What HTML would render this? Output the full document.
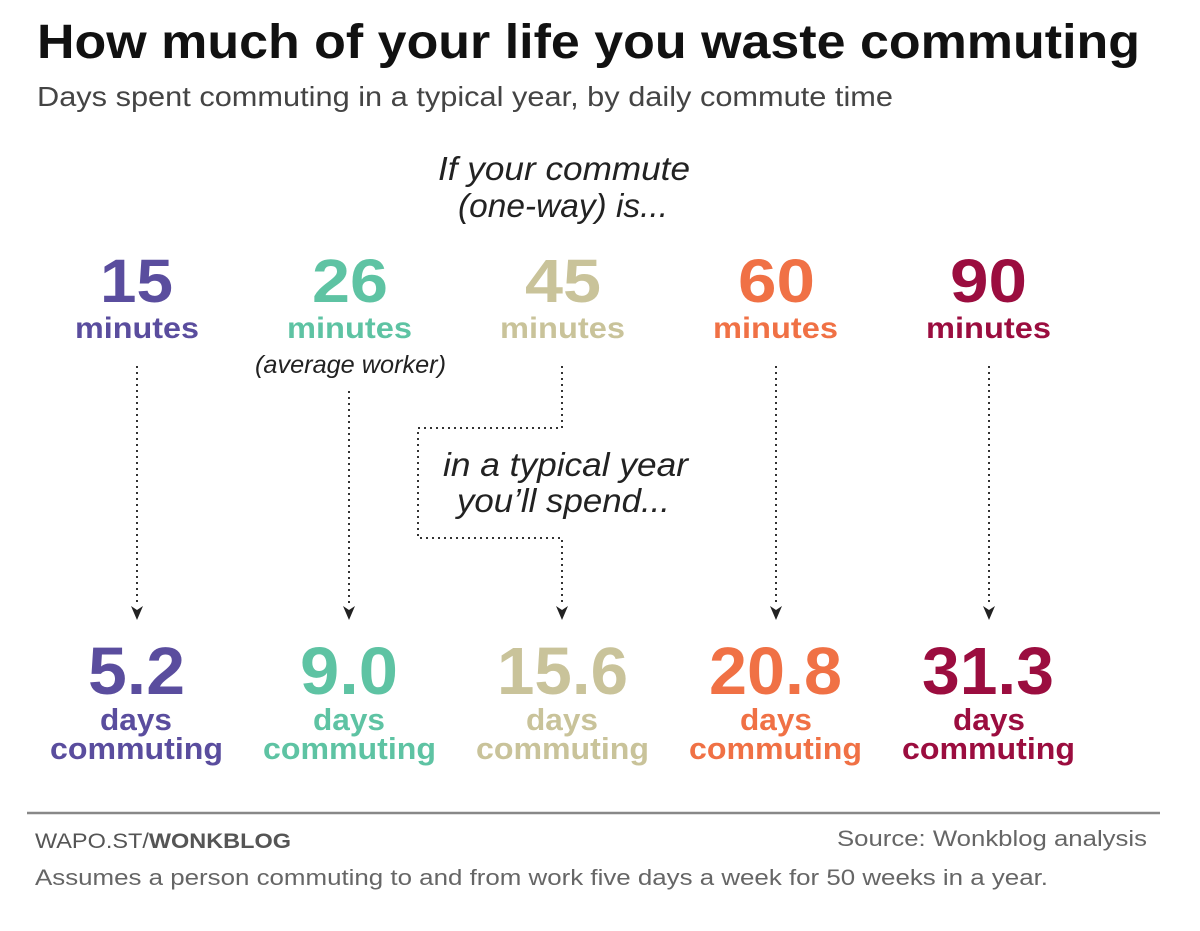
<!DOCTYPE html>
<html><head><meta charset="utf-8"><style>
html,body{margin:0;padding:0;background:#fff;width:1200px;height:931px;overflow:hidden}
svg{display:block}
text{font-family:"Liberation Sans",sans-serif}
.b{font-weight:bold}
.i{font-style:italic;fill:#222}
</style></head><body>
<svg width="1200" height="931" viewBox="0 0 1200 931" xmlns="http://www.w3.org/2000/svg">
<text x="37" y="58" class="b" font-size="48" fill="#111" textLength="1103" lengthAdjust="spacingAndGlyphs">How much of your life you waste commuting</text>
<text x="37" y="106" font-size="28" fill="#444" textLength="856" lengthAdjust="spacingAndGlyphs">Days spent commuting in a typical year, by daily commute time</text>
<text x="438" y="180" class="i" font-size="33" textLength="252" lengthAdjust="spacingAndGlyphs">If your commute</text>
<text x="458" y="217" class="i" font-size="33" textLength="210" lengthAdjust="spacingAndGlyphs">(one-way) is...</text>

<g class="b" font-size="61">
<text x="100" y="302" fill="#5a4d9e" textLength="73" lengthAdjust="spacingAndGlyphs">15</text>
<text x="312" y="302" fill="#5ec3a3" textLength="76" lengthAdjust="spacingAndGlyphs">26</text>
<text x="525" y="302" fill="#c9c39a" textLength="76" lengthAdjust="spacingAndGlyphs">45</text>
<text x="738" y="302" fill="#f07145" textLength="77" lengthAdjust="spacingAndGlyphs">60</text>
<text x="950" y="302" fill="#9b0d3f" textLength="77" lengthAdjust="spacingAndGlyphs">90</text>
</g>
<g class="b" font-size="30">
<text x="75" y="338" fill="#5a4d9e" textLength="124" lengthAdjust="spacingAndGlyphs">minutes</text>
<text x="287" y="338" fill="#5ec3a3" textLength="125" lengthAdjust="spacingAndGlyphs">minutes</text>
<text x="500" y="338" fill="#c9c39a" textLength="125" lengthAdjust="spacingAndGlyphs">minutes</text>
<text x="713" y="338" fill="#f07145" textLength="125" lengthAdjust="spacingAndGlyphs">minutes</text>
<text x="926" y="338" fill="#9b0d3f" textLength="125" lengthAdjust="spacingAndGlyphs">minutes</text>
</g>
<text x="255" y="373" class="i" font-size="25" fill="#333" textLength="191" lengthAdjust="spacingAndGlyphs">(average worker)</text>

<g stroke="#333" stroke-width="2" stroke-dasharray="2 4" fill="none">
<line x1="137" y1="366" x2="137" y2="604"/>
<line x1="349" y1="391" x2="349" y2="604"/>
<polyline points="562,366 562,428 418,428 418,538 562,538 562,604"/>
<line x1="776" y1="366" x2="776" y2="604"/>
<line x1="989" y1="366" x2="989" y2="604"/>
</g>
<g fill="#222">
<path d="M131,606 L137,620 L143,606 L137,610Z"/>
<path d="M343,606 L349,620 L355,606 L349,610Z"/>
<path d="M556,606 L562,620 L568,606 L562,610Z"/>
<path d="M770,606 L776,620 L782,606 L776,610Z"/>
<path d="M983,606 L989,620 L995,606 L989,610Z"/>
</g>

<text x="443" y="476" class="i" font-size="33" textLength="245" lengthAdjust="spacingAndGlyphs">in a typical year</text>
<text x="457" y="512" class="i" font-size="33" textLength="213" lengthAdjust="spacingAndGlyphs">you’ll spend...</text>

<g class="b" font-size="67">
<text x="88" y="694" fill="#5a4d9e" textLength="97" lengthAdjust="spacingAndGlyphs">5.2</text>
<text x="300" y="694" fill="#5ec3a3" textLength="98" lengthAdjust="spacingAndGlyphs">9.0</text>
<text x="497" y="694" fill="#c9c39a" textLength="131" lengthAdjust="spacingAndGlyphs">15.6</text>
<text x="709" y="694" fill="#f07145" textLength="133" lengthAdjust="spacingAndGlyphs">20.8</text>
<text x="922" y="694" fill="#9b0d3f" textLength="132" lengthAdjust="spacingAndGlyphs">31.3</text>
</g>
<g class="b" font-size="31">
<text x="100" y="730" fill="#5a4d9e" textLength="72" lengthAdjust="spacingAndGlyphs">days</text>
<text x="313" y="730" fill="#5ec3a3" textLength="72" lengthAdjust="spacingAndGlyphs">days</text>
<text x="526" y="730" fill="#c9c39a" textLength="72" lengthAdjust="spacingAndGlyphs">days</text>
<text x="740" y="730" fill="#f07145" textLength="72" lengthAdjust="spacingAndGlyphs">days</text>
<text x="953" y="730" fill="#9b0d3f" textLength="72" lengthAdjust="spacingAndGlyphs">days</text>
</g>
<g class="b" font-size="31">
<text x="50" y="759" fill="#5a4d9e" textLength="173" lengthAdjust="spacingAndGlyphs">commuting</text>
<text x="263" y="759" fill="#5ec3a3" textLength="173" lengthAdjust="spacingAndGlyphs">commuting</text>
<text x="476" y="759" fill="#c9c39a" textLength="173" lengthAdjust="spacingAndGlyphs">commuting</text>
<text x="689" y="759" fill="#f07145" textLength="173" lengthAdjust="spacingAndGlyphs">commuting</text>
<text x="902" y="759" fill="#9b0d3f" textLength="173" lengthAdjust="spacingAndGlyphs">commuting</text>
</g>

<line x1="27" y1="813" x2="1160" y2="813" stroke="#888" stroke-width="2.5"/>
<text x="35" y="848" font-size="21" fill="#555" textLength="256" lengthAdjust="spacingAndGlyphs">WAPO.ST/<tspan font-weight="bold">WONKBLOG</tspan></text>
<text x="837" y="846" font-size="22" fill="#666" textLength="310" lengthAdjust="spacingAndGlyphs">Source: Wonkblog analysis</text>
<text x="35" y="885" font-size="22" fill="#666" textLength="1013" lengthAdjust="spacingAndGlyphs">Assumes a person commuting to and from work five days a week for 50 weeks in a year.</text>
</svg>
</body></html>
